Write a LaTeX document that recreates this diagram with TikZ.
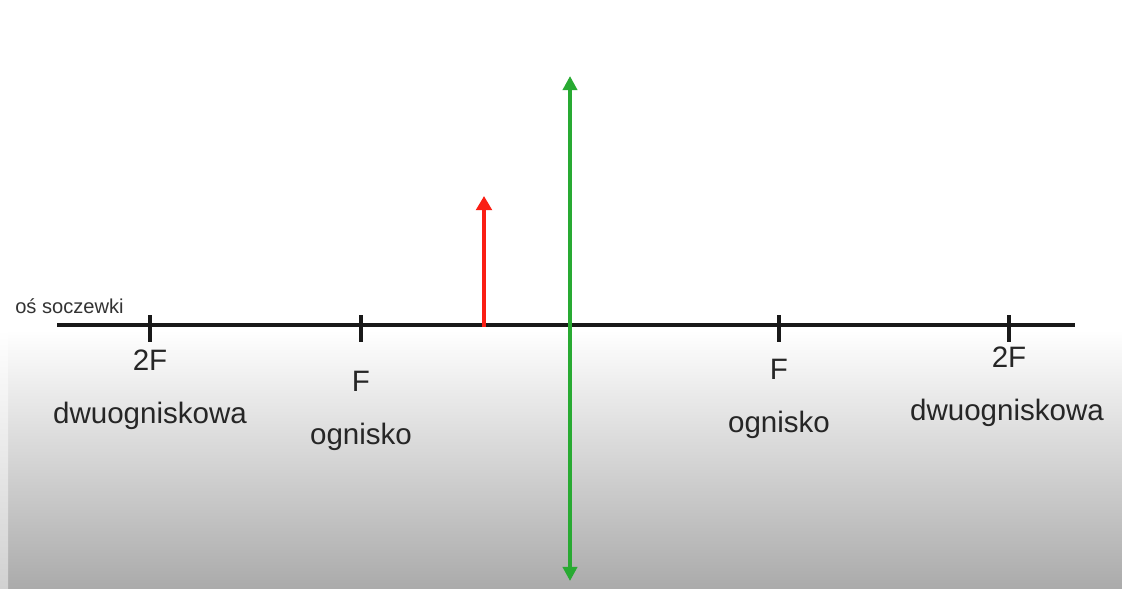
\documentclass[tikz,border=0pt]{standalone}
\usepackage{fontspec}
\setmainfont{Liberation Sans}
\usetikzlibrary{arrows.meta}
\definecolor{lensgreen}{RGB}{40,170,50}
\definecolor{objred}{RGB}{250,30,20}
\begin{document}
\begin{tikzpicture}[x=0.025cm,y=-0.025cm,
  axisline/.style={line width=2.9pt, black!90},
  tick/.style={line width=2.6pt, black!90},
  lbl/.style={font=\fontsize{21}{24}\selectfont, text=black!85, inner sep=0pt},
  small/.style={font=\fontsize{14.3}{16}\selectfont, text=black!80, inner sep=0pt},
  objarrow/.style={line width=2.9pt, objred, -{Triangle[length=10pt,width=11pt]}},
  lensarrow/.style={line width=2.7pt, lensgreen, {Triangle[length=10pt,width=10pt]}-{Triangle[length=10pt,width=10pt]}}
]
\useasboundingbox (0,0) rectangle (1122,588);
\fill[white] (0,0) rectangle (1122,588);
\shade[top color=white, bottom color=black!33] (8,330) rectangle (1122,588);
\shade[top color=white, bottom color=black!18] (0,330) rectangle (8,588);

% axis
\coordinate (axL) at (57,325);
\coordinate (axR) at (1075,325);
\draw[axisline] (axL) -- (axR);
\node[small, anchor=base west] (os) at (15,313) {oś soczewki};

% ticks
\foreach \n/\x in {t1/150, t2/361, t3/779, t4/1009}{
  \coordinate (\n top) at (\x,315);
  \coordinate (\n bot) at (\x,342);
  \draw[tick] (\n top) -- (\n bot);
}

% labels
\node[lbl] (l2Fa) at (150,360) {2F};
\node[lbl] (lFa) at (361,381) {F};
\node[lbl] (dwa) at (150,416) {dwuogniskowa};
\node[lbl] (oga) at (361,437) {ognisko};
\node[lbl] (lFb) at (779,369) {F};
\node[lbl] (ogb) at (779,425) {ognisko};
\node[lbl] (l2Fb) at (1009,357) {2F};
\node[lbl] (dwb) at (1007,413) {dwuogniskowa};

% object (red arrow)
\coordinate (objB) at (484,327);
\coordinate (objT) at (484,196);
\draw[objarrow] (objB) -- (objT);

% lens (green double arrow)
\coordinate (lensT) at (570,76);
\coordinate (lensB) at (570,581);
\draw[lensarrow] (lensT) -- (lensB);
\end{tikzpicture}
\end{document}
